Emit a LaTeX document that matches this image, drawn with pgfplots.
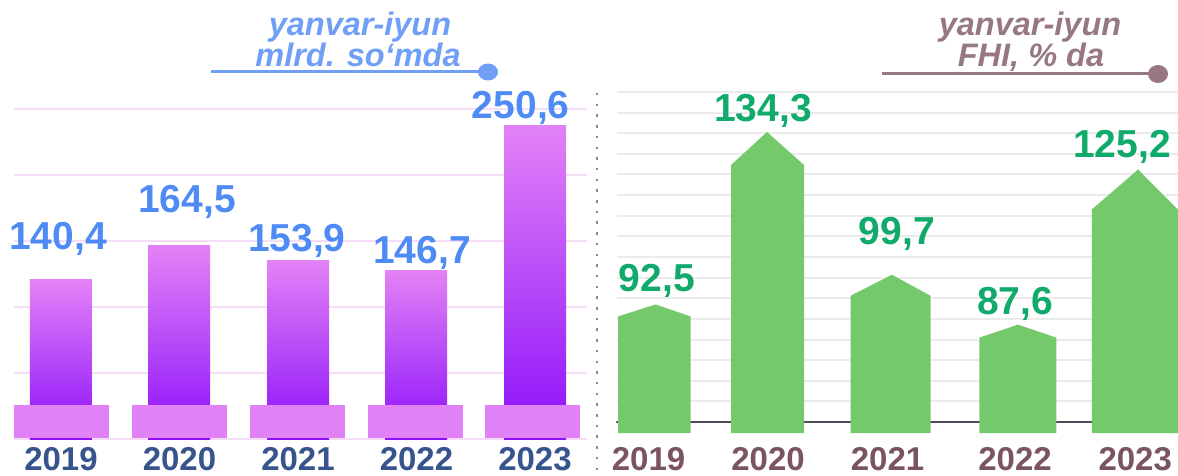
\documentclass[border=0pt]{standalone}
\usepackage{fontspec}
\setmainfont{Liberation Sans}
\usepackage{pgfplots}
\pgfplotsset{compat=1.18}
\definecolor{barTop}{HTML}{E282F6}
\definecolor{barBot}{HTML}{8C10FA}
\definecolor{pedestal}{HTML}{E082F6}
\definecolor{valBlue}{HTML}{4F8BF5}
\definecolor{yearBlue}{HTML}{37558C}
\definecolor{gridPink}{HTML}{F5DDF7}
\definecolor{titleBlue}{HTML}{6F9FF6}
\definecolor{titleMauve}{HTML}{977784}
\definecolor{barGreen}{HTML}{74C96B}
\definecolor{valGreen}{HTML}{10AA6A}
\definecolor{yearMauve}{HTML}{7B5463}
\definecolor{gridGray}{HTML}{EBEBEB}
\definecolor{baseDark}{HTML}{4A4A58}
\definecolor{sepGray}{HTML}{8A8A8A}
\newcommand\valfont{\fontsize{39}{39}\selectfont\bfseries}
\newcommand\yearfont{\fontsize{33}{33}\selectfont\bfseries}
\newcommand\titlefont{\fontsize{32.5}{32.5}\selectfont\bfseries\itshape}
\begin{document}
\begin{tikzpicture}
\useasboundingbox (0,0) rectangle (1178pt,475pt);
% ---------------- left panel ----------------
\begin{axis}[
  at={(14pt,36pt)}, anchor=south west, scale only axis,
  width=573pt, height=330pt,
  xmin=-0.3966, xmax=4.4388, ymin=26.3, ymax=262.35,
  clip=false,
  axis line style={draw=none}, major tick length=0pt,
  ytick={26.3,73.51,120.72,167.93,215.14,262.35}, yticklabels={},
  ymajorgrids, grid style={color=gridPink, line width=1.5pt},
  xtick={0,1,2,3,4}, xticklabels={2019,2020,2021,2022,2023},
  xticklabel style={font=\yearfont, text=yearBlue, inner sep=0pt, anchor=north, yshift=-8pt},
]
\addplot[draw=none, top color=barTop, bottom color=barBot] coordinates {(-0.2616,26.3) (-0.2616,140.4) (0.2616,140.4) (0.2616,26.3)};
\addplot[draw=none, top color=barTop, bottom color=barBot] coordinates {(0.7342,26.3) (0.7342,164.5) (1.2574,164.5) (1.2574,26.3)};
\addplot[draw=none, top color=barTop, bottom color=barBot] coordinates {(1.7384,26.3) (1.7384,153.9) (2.2616,153.9) (2.2616,26.3)};
\addplot[draw=none, top color=barTop, bottom color=barBot] coordinates {(2.7342,26.3) (2.7342,146.7) (3.2574,146.7) (3.2574,26.3)};
\addplot[draw=none, top color=barTop, bottom color=barBot] coordinates {(3.7384,26.3) (3.7384,250.6) (4.2616,250.6) (4.2616,26.3)};
% pedestals
\addplot[draw=none, fill=pedestal] coordinates {(-0.3966,27.0) (-0.3966,50.62) (0.4051,50.62) (0.4051,27.0)};
\addplot[draw=none, fill=pedestal] coordinates {(0.5992,27.0) (0.5992,50.62) (1.4008,50.62) (1.4008,27.0)};
\addplot[draw=none, fill=pedestal] coordinates {(1.5949,27.0) (1.5949,50.62) (2.3966,50.62) (2.3966,27.0)};
\addplot[draw=none, fill=pedestal] coordinates {(2.5907,27.0) (2.5907,50.62) (3.3924,50.62) (3.3924,27.0)};
\addplot[draw=none, fill=pedestal] coordinates {(3.5781,27.0) (3.5781,50.62) (4.3797,50.62) (4.3797,27.0)};
% value labels
\node[anchor=base, inner sep=0pt, font=\valfont, text=valBlue] at (axis cs:-0.025,161.5) {140,4};
\node[anchor=base, inner sep=0pt, font=\valfont, text=valBlue] at (axis cs:1.063,188.0) {164,5};
\node[anchor=base, inner sep=0pt, font=\valfont, text=valBlue] at (axis cs:1.99,160.1) {153,9};
\node[anchor=base, inner sep=0pt, font=\valfont, text=valBlue] at (axis cs:3.046,151.5) {146,7};
\node[anchor=base, inner sep=0pt, font=\valfont, text=valBlue] at (axis cs:3.88,255.9) {250,6};
\end{axis}
% ---------------- right panel ----------------
\begin{axis}[
  at={(617pt,42pt)}, anchor=south west, scale only axis,
  width=561pt, height=341pt,
  xmin=-0.3089, xmax=4.3122, ymin=61.333, ymax=144,
  clip=false,
  axis line style={draw=none}, major tick length=0pt,
  ytick={64,69,...,144}, yticklabels={},
  ymajorgrids, grid style={color=gridGray, line width=2pt},
  extra y ticks={64}, extra y tick labels={},
  extra y tick style={grid style={color=baseDark, line width=2.5pt, line cap=round}},
  xtick={-0.049,0.935,1.92,2.97,3.96}, xticklabels={2019,2020,2021,2022,2023},
  xticklabel style={font=\yearfont, text=yearMauve, inner sep=0pt, anchor=north, yshift=-14pt},
]
\addplot[draw=none, fill=barGreen] coordinates {(-0.3007,61.333) (-0.3007,89.6) (0.009,92.5) (0.2965,89.6) (0.2965,61.333)};
\addplot[draw=none, fill=barGreen] coordinates {(0.6301,61.333) (0.6301,126.3) (0.9267,134.3) (1.2315,126.3) (1.2315,61.333)};
\addplot[draw=none, fill=barGreen] coordinates {(1.6145,61.333) (1.6145,94.6) (1.956,99.7) (2.2735,94.6) (2.2735,61.333)};
\addplot[draw=none, fill=barGreen] coordinates {(2.6755,61.333) (2.6755,84.45) (2.994,87.6) (3.3097,84.45) (3.3097,61.333)};
\addplot[draw=none, fill=barGreen] coordinates {(3.6017,61.333) (3.6017,115.5) (3.983,125.2) (4.3122,115.5) (4.3122,61.333)};
\node[anchor=base, inner sep=0pt, font=\valfont, text=valGreen] at (axis cs:0.02,95.52) {92,5};
\node[anchor=base, inner sep=0pt, font=\valfont, text=valGreen] at (axis cs:0.894,136.73) {134,3};
\node[anchor=base, inner sep=0pt, font=\valfont, text=valGreen] at (axis cs:1.997,106.91) {99,7};
\node[anchor=base, inner sep=0pt, font=\valfont, text=valGreen] at (axis cs:2.97,90.18) {87,6};
\node[anchor=base, inner sep=0pt, font=\valfont, text=valGreen] at (axis cs:3.85,128) {125,2};
\end{axis}
% ---------------- decorations ----------------
\draw[sepGray, line width=2.5pt, dash pattern=on 2.5pt off 8.2pt] (597pt,382pt) -- (597pt,0pt);
\node[anchor=base, inner sep=0pt, font=\titlefont, text=titleBlue] at (360pt,439pt) {yanvar-iyun};
\node[anchor=base, inner sep=0pt, font=\titlefont, text=titleBlue] at (358pt,408.5pt) {mlrd. so‘mda};
\draw[titleBlue, line width=3pt] (211pt,403pt) -- (488pt,403pt);
\fill[titleBlue] (488pt,403pt) ellipse (10pt and 8.5pt);
\node[anchor=base, inner sep=0pt, font=\titlefont, text=titleMauve] at (1030pt,439pt) {yanvar-iyun};
\node[anchor=base, inner sep=0pt, font=\titlefont, text=titleMauve] at (1031pt,408.5pt) {FHI, \% da};
\draw[titleMauve, line width=3pt] (882pt,401pt) -- (1158pt,401pt);
\fill[titleMauve] (1158pt,401pt) ellipse (10pt and 9pt);
\end{tikzpicture}
\end{document}
